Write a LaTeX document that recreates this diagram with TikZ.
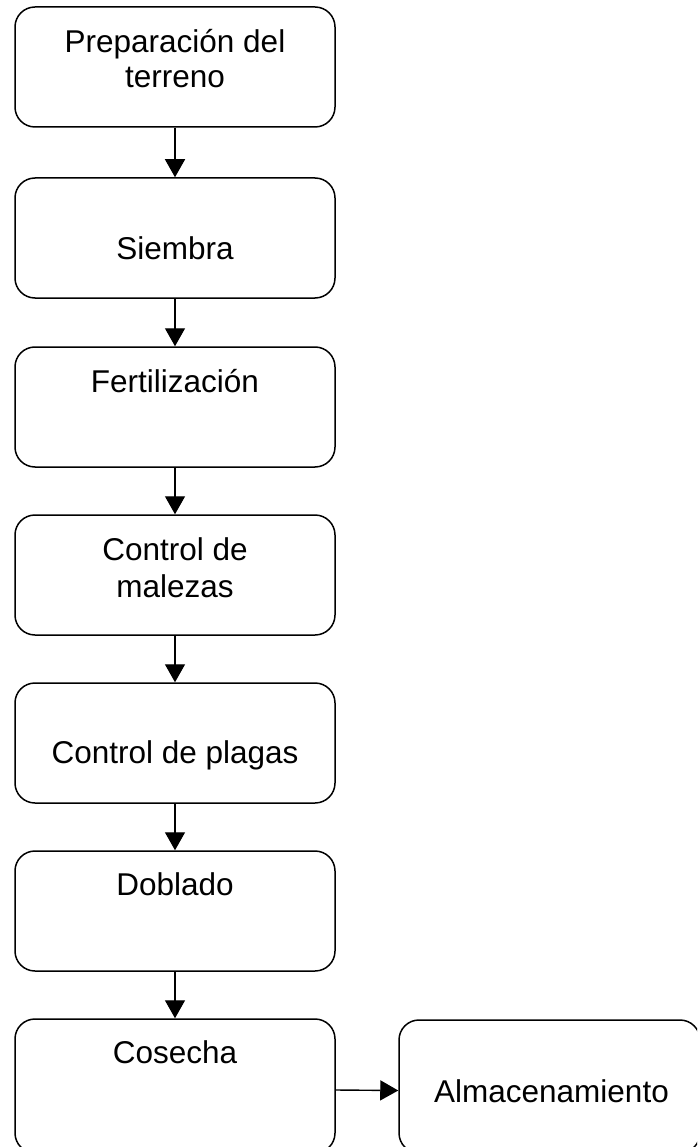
\documentclass[tikz,border=0pt]{standalone}
\usepackage{fontspec}
\setmainfont{Liberation Sans}
\usetikzlibrary{arrows.meta}
\tikzset{
  box/.style={draw=black, line width=1.5pt, rounded corners=20pt, inner sep=0pt,
    minimum width=320pt, minimum height=120pt},
  lbl/.style={anchor=base, inner sep=0pt, font=\fontsize{31.5}{36}\selectfont},
  arr/.style={draw=black, line width=1.4pt, -{Triangle[width=20pt,length=18pt]}}
}
\begin{document}
\begin{tikzpicture}[x=1pt,y=-1pt]
\useasboundingbox (0,0) rectangle (697,1147);
\clip (0,0) rectangle (697,1147);
\fill[white] (0,0) rectangle (697,1147);
% boxes
\node[box] (b1) at (175,67) {};
\node[box] (b2) at (175,238) {};
\node[box] (b3) at (175,407) {};
\node[box] (b4) at (175,575) {};
\node[box] (b5) at (175,743) {};
\node[box] (b6) at (175,911) {};
\node[box, minimum height=134pt] (b7) at (175,1086) {};
\node[box, minimum width=301pt, minimum height=133pt] (b8) at (549.5,1086.5) {};
% labels
\node[lbl] (t1a) at (175,53) {Preparación del};
\node[lbl] (t1b) at (175,88) {terreno};
\node[lbl] (t2) at (175,260) {Siembra};
\node[lbl] (t3) at (175,392) {Fertilización};
\node[lbl] (t4a) at (175,560) {Control de};
\node[lbl] (t4b) at (175,597) {malezas};
\node[lbl] (t5) at (175,763) {Control de plagas};
\node[lbl] (t6) at (175,895) {Doblado};
\node[lbl] (t7) at (175,1063) {Cosecha};
\node[lbl] (t8) at (551.5,1102) {Almacenamiento};
% connectors
\draw[arr] (b1.south) -- (b2.north);
\draw[arr] (b2.south) -- (b3.north);
\draw[arr] (b3.south) -- (b4.north);
\draw[arr] (b4.south) -- (b5.north);
\draw[arr] (b5.south) -- (b6.north);
\draw[arr] (b6.south) -- (b7.north);
\draw[arr] ([yshift=-4pt]b7.east) -- ([yshift=-4pt]b8.west);
\end{tikzpicture}
\end{document}
